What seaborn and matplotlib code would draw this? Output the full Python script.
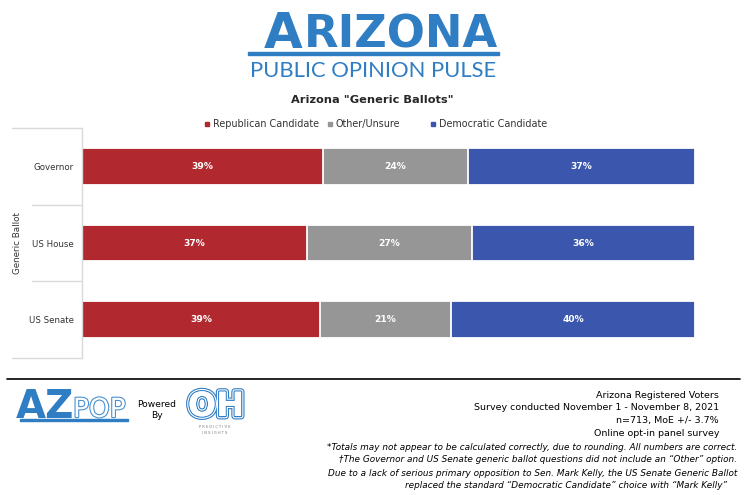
import matplotlib.pyplot as plt
import matplotlib.patheffects as pe
from matplotlib.lines import Line2D
import pandas as pd
import seaborn as sns

# Chart data
ballots = ["Governor", "US House", "US Senate"]
republican = [39.3, 36.7, 38.8]
other = [23.6, 26.9, 21.4]
democratic = [37.1, 36.4, 39.8]
series_names = ["Republican Candidate", "Other/Unsure", "Democratic Candidate"]
series_colors = ["#B1282E", "#969696", "#3A57AD"]

footer_lines = [
    "Arizona Registered Voters",
    "Survey conducted November 1 - November 8, 2021",
    "n=713, MoE +/- 3.7%",
    "Online opt-in panel survey",
]
footnotes = [
    "*Totals may not appear to be calculated correctly, due to rounding. All numbers are correct.",
    "\u2020The Governor and US Senate generic ballot questions did not include an \u201cOther\u201d option.",
    "Due to a lack of serious primary opposition to Sen. Mark Kelly, the US Senate Generic Ballot",
    "replaced the standard \u201cDemocratic Candidate\u201d choice with \u201cMark Kelly\u201d",
]

df = pd.DataFrame({"Ballot": ballots, "Republican": republican,
                   "Other": other, "Democratic": democratic})
df["rep_end"] = df["Republican"]
df["oth_end"] = df["Republican"] + df["Other"]
df["dem_end"] = df["oth_end"] + df["Democratic"]

sns.set_theme(style="white")
plt.rcParams["font.family"] = ["DejaVu Sans"]

W, H = 745, 495
fig = plt.figure(figsize=(W / 100, H / 100), dpi=100)
ax = fig.add_axes([82 / W, 1 - 358 / H, 613 / W, 230 / H])

# stacked bars: draw cumulative ends from back to front
for col, color in zip(["dem_end", "oth_end", "rep_end"], series_colors[::-1]):
    sns.barplot(data=df, x=col, y="Ballot", orient="h", color=color, saturation=1,
                width=0.48, edgecolor="white", linewidth=1.3, ax=ax)

# segment labels
starts = [[0] * len(df), list(df["rep_end"]), list(df["oth_end"])]
for seg, start in zip([df["Republican"], df["Other"], df["Democratic"]], starts):
    for i, (v, s) in enumerate(zip(seg, start)):
        ax.text(s + v / 2, i, f"{round(v)}%", ha="center", va="center",
                color="white", fontsize=6.6, fontweight="bold")

ax.set_xlim(0, 100)
ax.set_ylim(len(ballots) - 0.5, -0.5)
ax.set_xlabel("")
ax.set_ylabel("")
ax.set_xticks([])
ax.tick_params(axis="y", length=0, pad=6, labelsize=6.2, labelcolor="#333333")
for side in ["top", "right", "bottom"]:
    ax.spines[side].set_visible(False)
ax.spines["left"].set_color("#D9D9D9")
ax.spines["left"].set_linewidth(1.0)

# category group separators on the left (figure coords from the axes transform)
for k in range(len(ballots) + 1):
    yb = k - 0.5
    x0 = 12 if k in (0, len(ballots)) else 32
    yf = fig.transFigure.inverted().transform(ax.transData.transform((0, yb)))[1]
    fig.add_artist(Line2D([x0 / W, 82 / W], [yf, yf], color="#D9D9D9", lw=1.0))
ax.text(-64 / 613, 0.5, "Generic Ballot", rotation=90, ha="center", va="center",
        fontsize=6.3, color="#333333", transform=ax.transAxes)

# legend, one entry per series
legend_x = [204, 327, 430]
for name, color, lx in zip(series_names, series_colors, legend_x):
    h = Line2D([], [], marker="s", ls="", color=color, markersize=3.5)
    fig.legend([h], [name], loc="center left", bbox_to_anchor=(lx / W, 1 - 124 / H),
               frameon=False, fontsize=6.9, handletextpad=0.3, handlelength=0.6,
               borderpad=0, borderaxespad=0, labelcolor="#333333")

# title
fig.text(372 / W, 1 - 100 / H, 'Arizona "Generic Ballots"', ha="center", va="center",
         fontsize=8.2, fontweight="bold", color="#262626")

# header logo
logo_blue = "#2F7DC3"
fig.canvas.draw()
renderer = fig.canvas.get_renderer()
ta = fig.text(264 / W, 1 - 48 / H, "A", ha="left", va="baseline", fontsize=36,
              fontweight="bold", color=logo_blue)
bb = ta.get_window_extent(renderer)
fig.text((bb.x1 + 1) / W, 1 - 48 / H, "RIZONA", ha="left", va="baseline", fontsize=32.3,
         fontweight="bold", color=logo_blue)
fig.add_artist(plt.Rectangle((248 / W, 1 - 55 / H), 251 / W, 3 / H, color=logo_blue,
                             transform=fig.transFigure))
fig.text(373 / W, 1 - 77 / H, "PUBLIC OPINION PULSE", ha="center", va="baseline",
         fontsize=15.8, color=logo_blue, family="Lato")

# footer rule
fig.add_artist(Line2D([7 / W, 740 / W], [1 - 379 / H] * 2, color="black", lw=1.2))

# footer logos
fig.text(16 / W, 1 - 418 / H, "AZ", ha="left", va="baseline", fontsize=28,
         fontweight="bold", color=logo_blue)
fig.text(73 / W, 1 - 417 / H, "POP", ha="left", va="baseline", fontsize=19,
         color="white", path_effects=[pe.withStroke(linewidth=1.6, foreground="#4A90D0")])
fig.add_artist(plt.Rectangle((20 / W, 1 - 421 / H), 108 / W, 2.5 / H, color=logo_blue,
                             transform=fig.transFigure))
fig.text(157 / W, 1 - 410 / H, "Powered\nBy", ha="center", va="center", fontsize=6.6,
         color="black", linespacing=1.4)
fig.text(216 / W, 1 - 416 / H, "OH", ha="center", va="baseline", fontsize=24,
         fontweight="bold", color="white",
         path_effects=[pe.withStroke(linewidth=5, foreground=logo_blue),
                       pe.withStroke(linewidth=3.4, foreground="white"),
                       pe.withStroke(linewidth=1.8, foreground=logo_blue),
                       pe.Normal()])
fig.text(215 / W, 1 - 430 / H, "P R E D I C T I V E\nI N S I G H T S", ha="center",
         va="center", fontsize=2.6, color="#777777", linespacing=1.6)

# footer text
for i, line in enumerate(footer_lines):
    fig.text(719 / W, 1 - (395 + 13 * i) / H, line, ha="right", va="center",
             fontsize=6.8, color="black")
for i, line in enumerate(footnotes):
    xr = 737 if i < 3 else 727
    fig.text(xr / W, 1 - (447 + 13 * i) / H, line, ha="right", va="center",
             fontsize=6.4, color="black", style="italic")

fig.savefig("out.png", dpi=100)
